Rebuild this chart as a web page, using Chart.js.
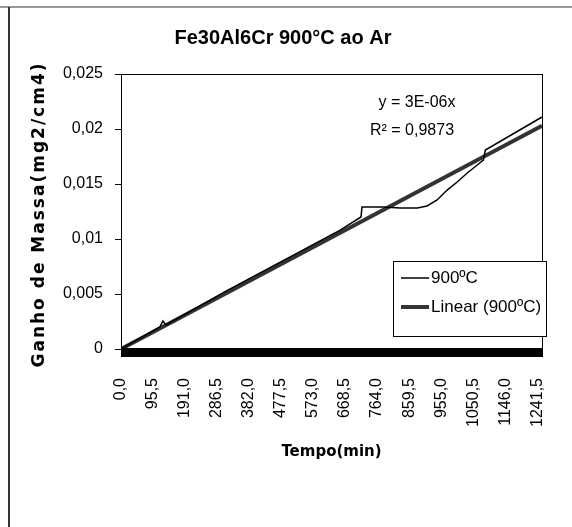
<!DOCTYPE html>
<html><head><meta charset="utf-8">
<script src="https://cdn.jsdelivr.net/npm/chart.js@4.4.0/dist/chart.umd.min.js"></script>
<style>
html,body{margin:0;padding:0;background:#fff;}
#wrap{position:relative;width:572px;height:527px;overflow:hidden;}
#frameTop{position:absolute;left:0;top:6px;width:572px;height:2px;background:#9a9a9a;}
#frameLeft{position:absolute;left:8px;top:7px;width:2px;height:520px;background:#333;}
canvas{position:absolute;left:0;top:0;}
</style></head><body>
<div id="wrap"><canvas id="c" width="572" height="527"></canvas><div id="frameTop"></div><div id="frameLeft"></div></div>
<script>
const titleText = 'Fe30Al6Cr 900°C ao Ar';
const yTitle = 'Ganho de Massa(mg2/cm4)';
const xTitle = 'Tempo(min)';
const seriesLabel = '900ºC';
const trendLabel = 'Linear (900ºC)';
const equationLines = ['y = 3E-06x', 'R² = 0,9873'];
const xTickValues = [0, 95.5, 191, 286.5, 382, 477.5, 573, 668.5, 764, 859.5, 955, 1050.5, 1146, 1241.5];
const yTickValues = [0, 0.005, 0.01, 0.015, 0.02, 0.025];
const timeMin = [0, 116, 125, 134, 316, 654, 716, 719, 782, 833, 884, 913, 943, 973, 1003, 1033, 1063, 1081, 1087, 1256];
const massGain = [0, 0.0020, 0.00255, 0.00218, 0.0053, 0.0108, 0.0120, 0.0129, 0.0129, 0.01282, 0.01282, 0.0130, 0.01355, 0.01445, 0.01518, 0.0160, 0.01673, 0.01718, 0.01809, 0.02109];
const trendTime = [0, 1256];
const trendGain = [0, 0.0203];

const SANS = '"Liberation Sans", Arial, sans-serif';
const BOLD_AXIS = 'bold 17px "DejaVu Sans", sans-serif';

const framePlugin = {
  id: 'framePlugin',
  afterDraw(chart) {
    const {ctx, chartArea: a} = chart;
    ctx.save();
    ctx.strokeStyle = '#000';
    ctx.lineWidth = 1;
    ctx.strokeRect(a.left + 0.5, a.top + 0.5, a.right - a.left, a.bottom - a.top);
    ctx.fillStyle = '#000';
    ctx.fillRect(a.left, a.bottom - 1, a.right - a.left + 1, 9);
    // y axis title
    ctx.save();
    ctx.font = BOLD_AXIS;
    if ('letterSpacing' in ctx) ctx.letterSpacing = '2px';
    ctx.translate(a.left - 81, (a.top + a.bottom) / 2 + 3);
    ctx.rotate(-Math.PI / 2);
    ctx.textAlign = 'center';
    ctx.textBaseline = 'middle';
    ctx.fillText(yTitle, 0, 0);
    ctx.restore();
    // equation text
    ctx.font = '16px ' + SANS;
    ctx.textAlign = 'center';
    ctx.textBaseline = 'middle';
    ctx.fillText(equationLines[0], a.left + 296, a.top + 29);
    ctx.fillText(equationLines[1], a.left + 291, a.top + 57);
    // legend
    const ds = chart.data.datasets;
    const bx = a.right - 149, by = a.top + 187, bw = 153, bh = 75;
    ctx.fillStyle = '#fff';
    ctx.fillRect(bx, by, bw, bh);
    ctx.strokeStyle = '#000';
    ctx.lineWidth = 1;
    ctx.strokeRect(bx + 0.5, by + 0.5, bw, bh);
    ctx.font = '17px ' + SANS;
    ctx.textAlign = 'left';
    ctx.fillStyle = '#000';
    ds.forEach((d, i) => {
      const y = by + 17 + i * 29;
      ctx.strokeStyle = d.borderColor;
      ctx.lineWidth = d.borderWidth;
      ctx.beginPath(); ctx.moveTo(bx + 8, y); ctx.lineTo(bx + 36, y); ctx.stroke();
      ctx.fillText(d.label, bx + 38, y);
    });
    ctx.restore();
  }
};

new Chart(document.getElementById('c'), {
  type: 'line',
  data: {
    datasets: [
      {
        label: seriesLabel,
        data: timeMin.map((t, i) => ({x: t, y: massGain[i]})),
        borderColor: '#000',
        borderWidth: 1.5,
        pointRadius: 0,
        tension: 0,
        order: 1
      },
      {
        label: trendLabel,
        data: trendTime.map((t, i) => ({x: t, y: trendGain[i]})),
        borderColor: '#333',
        borderWidth: 4,
        pointRadius: 0,
        tension: 0,
        order: 2
      }
    ]
  },
  options: {
    responsive: false,
    animation: false,
    layout: {padding: {left: 10, right: 16, top: 0, bottom: 0}},
    plugins: {
      legend: {display: false},
      tooltip: {enabled: false},
      title: {
        display: true,
        text: titleText,
        color: '#000',
        font: {family: SANS, weight: 'bold', size: 20},
        padding: {top: 26, bottom: 24}
      }
    },
    scales: {
      x: {
        type: 'linear',
        min: 0,
        max: 1256,
        afterBuildTicks: s => { s.ticks = xTickValues.map(v => ({value: v})); },
        afterFit: s => { s.height = 178; s.paddingLeft = 0; s.paddingRight = 0; },
        grid: {display: false, drawTicks: true, tickLength: 29},
        border: {display: true, color: '#000', width: 1},
        ticks: {
          autoSkip: false,
          minRotation: 90,
          maxRotation: 90,
          padding: 0,
          color: '#000',
          font: {family: SANS, size: 16},
          callback: v => Number(v).toFixed(1).replace('.', ',')
        },
        title: {
          display: true,
          text: xTitle,
          color: '#000',
          font: {family: '"DejaVu Sans", sans-serif', weight: 'bold', size: 15},
          padding: {top: 0, bottom: 66}
        }
      },
      y: {
        type: 'linear',
        min: 0,
        max: 0.025,
        afterBuildTicks: s => { s.ticks = yTickValues.map(v => ({value: v})); },
        afterFit: s => { s.width = 111; },
        grid: {display: true, drawOnChartArea: false, tickLength: 6, color: '#000'},
        border: {display: true, color: '#000', width: 1},
        ticks: {
          padding: 12,
          color: '#000',
          font: {family: SANS, size: 16},
          callback: v => String(v).replace('.', ',')
        }
      },
      y2: {
        type: 'linear',
        position: 'right',
        display: true,
        afterFit: s => { s.width = 14; },
        grid: {display: false, drawTicks: false},
        border: {display: false},
        ticks: {display: false}
      }
    }
  },
  plugins: [framePlugin]
});
</script>
</body></html>
